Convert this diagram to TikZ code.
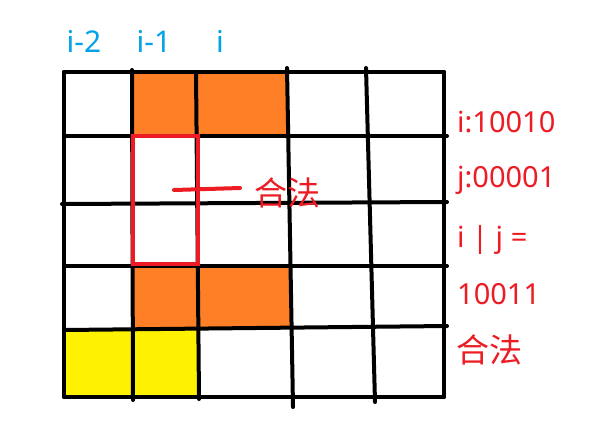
\documentclass[tikz,border=0pt]{standalone}
\usepackage{fontspec}
\setmainfont{Noto Sans}
\newfontfamily\cjk{Noto Sans CJK SC}
\definecolor{porange}{HTML}{FF7F27}
\definecolor{pyellow}{HTML}{FFF200}
\definecolor{pred}{HTML}{ED1C24}
\definecolor{pblue}{HTML}{00A2E8}
\newcommand{\cjkbig}{\cjk\fontsize{33}{38}\selectfont}
\begin{document}
\begin{tikzpicture}[x=1pt,y=-1pt,
  gridline/.style={black,line width=4pt,line cap=round},
  redtext/.style={pred,anchor=west,inner sep=0pt,font=\fontsize{29}{34}\selectfont},
  bluetext/.style={pblue,inner sep=0pt,font=\fontsize{30}{34}\selectfont}]
\useasboundingbox (0,0) rectangle (596,445);
\fill[white] (0,0) rectangle (596,445);
% fills
\fill[porange] (132,72) rectangle (288,136);
\fill[porange] (132,266) rectangle (292,329);
\fill[pyellow] (64,329) rectangle (197,397);
% vertical lines
\draw[gridline] (64,72) -- (64,397);
\draw[gridline] (132,70) -- (133,400);
\draw[gridline] (196,72) -- (199,399);
\draw[gridline] (287,68) -- (293,407);
\draw[gridline] (366,68) -- (375,402);
\draw[gridline] (444,72) -- (444,397);
% horizontal lines
\draw[gridline] (64,72) -- (444,72);
\draw[gridline] (64,136) -- (447,136);
\draw[gridline] (62,204) -- (447,202);
\draw[gridline] (64,266) -- (447,266);
\draw[gridline] (64,330) -- (447,326);
\draw[gridline] (64,397) -- (444,397);
% red box and mark
\draw[pred,line width=4pt] (133,136) rectangle (198,264);
\draw[pred,line width=4pt,line cap=round] (174,190) -- (240,188);
\node[redtext] (legal1) at (254,193) {\cjkbig 合法};
% labels
\node[bluetext] (lbl2) at (84,41) {i-2};
\node[bluetext] (lbl1) at (154,41) {i-1};
\node[bluetext] (lbl0) at (220,41) {i};
\node[redtext] (ri) at (457,122) {i:10010};
\node[redtext] (rj) at (457,180) {j:00001};
\node[redtext] (ror) at (457,240) {i | j =};
\node[redtext] (rres) at (457,294) {10011};
\node[redtext] (legal2) at (456,350) {\cjkbig 合法};
\end{tikzpicture}
\end{document}
